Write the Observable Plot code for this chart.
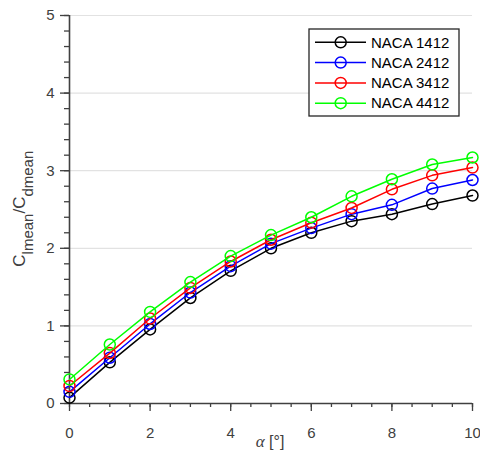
<!DOCTYPE html>
<html><head><meta charset="utf-8">
<script src="https://cdn.jsdelivr.net/npm/d3@7"></script>
<script src="https://cdn.jsdelivr.net/npm/@observablehq/plot@0.6"></script>
<style>body{margin:0;background:#fff}</style>
</head><body><div id="chart"></div>
<script>
const alpha = [0, 1, 2, 3, 4, 5, 6, 7, 8, 9, 10];
const seriesNames = ["NACA 1412", "NACA 2412", "NACA 3412", "NACA 4412"];
const seriesColors = ["#000000", "#0000ff", "#ff0000", "#00ff00"];
const naca1412 = [0.075, 0.53, 0.955, 1.36, 1.71, 2.00, 2.20, 2.35, 2.44, 2.57, 2.68];
const naca2412 = [0.15, 0.59, 1.025, 1.43, 1.77, 2.06, 2.26, 2.44, 2.56, 2.77, 2.88];
const naca3412 = [0.225, 0.65, 1.095, 1.49, 1.83, 2.11, 2.33, 2.52, 2.76, 2.94, 3.04];
const naca4412 = [0.31, 0.76, 1.18, 1.565, 1.90, 2.17, 2.40, 2.67, 2.89, 3.08, 3.17];
const seriesValues = [naca1412, naca2412, naca3412, naca4412];
const xMajorTicks = [0, 2, 4, 6, 8, 10];
const xMinorTicks = [0, 0.5, 1, 1.5, 2, 2.5, 3, 3.5, 4, 4.5, 5, 5.5, 6, 6.5, 7, 7.5, 8, 8.5, 9, 9.5, 10];
const yMajorTicks = [0, 1, 2, 3, 4, 5];
const yMinorTicks = [0, 0.2, 0.4, 0.6, 0.8, 1, 1.2, 1.4, 1.6, 1.8, 2, 2.2, 2.4, 2.6, 2.8, 3, 3.2, 3.4, 3.6, 3.8, 4, 4.2, 4.4, 4.6, 4.8, 5];

const axisColor = "#404040";
const seriesMarks = seriesValues.flatMap((vals, k) => {
  const data = alpha.map((a, i) => ({a, v: vals[i]}));
  return [
    Plot.line(data, {x: "a", y: "v", stroke: seriesColors[k], strokeWidth: 1.5}),
    Plot.dot(data, {x: "a", y: "v", r: 5.5, stroke: seriesColors[k], strokeWidth: 1.5, fill: "none"})
  ];
});

const svg = Plot.plot({
  width: 480, height: 468,
  marginLeft: 69, marginRight: 8, marginTop: 15, marginBottom: 65,
  style: {fontFamily: "'Liberation Sans', Arial, sans-serif", fontSize: "15px", color: axisColor, background: "#fff"},
  x: {domain: [0, 10]},
  y: {domain: [0, 5]},
  marks: [
    Plot.gridY(yMajorTicks.slice(1), {stroke: "#e2e2e2", strokeOpacity: 1, strokeWidth: 1.2}),
    Plot.axisX({ticks: xMinorTicks, tickSize: 4, tickFormat: () => "", label: null, strokeWidth: 1.3}),
    Plot.axisX({ticks: xMajorTicks, tickSize: 8, tickPadding: 16, tickFormat: d => String(d), label: null, strokeWidth: 1.3}),
    Plot.axisY({ticks: yMinorTicks, tickSize: 5, tickFormat: () => "", label: null, strokeWidth: 1.3}),
    Plot.axisY({ticks: yMajorTicks, tickSize: 9, tickPadding: 6, tickFormat: d => String(d), label: null, strokeWidth: 1.3}),
    Plot.ruleY([0], {stroke: axisColor, strokeWidth: 1.6}),
    Plot.ruleX([0], {stroke: axisColor, strokeWidth: 1.6}),
    ...seriesMarks
  ]
});

const root = d3.select(svg);
// x-axis label
const xl = root.append("text")
  .attr("x", 270).attr("y", 447)
  .attr("text-anchor", "middle")
  .attr("fill", axisColor)
  .style("font-size", "16px");
xl.append("tspan").attr("font-family", "'Liberation Serif', 'Times New Roman', serif").attr("font-style", "italic").style("font-size", "17px").text("α");
xl.append("tspan").attr("font-family", "'Liberation Sans', Arial, sans-serif").text(" [°]");

// y-axis label
const yl = root.append("text")
  .attr("transform", "translate(25,208.7) rotate(-90)")
  .attr("text-anchor", "middle")
  .attr("fill", axisColor)
  .attr("font-family", "'Liberation Sans', Arial, sans-serif");
yl.append("tspan").style("font-size", "17px").text("C");
yl.append("tspan").style("font-size", "15px").attr("dy", 8).text("lmean");
yl.append("tspan").style("font-size", "17px").attr("dy", -8).text("/C");
yl.append("tspan").style("font-size", "15px").attr("dy", 8).text("dmean");

// legend
const lg = root.append("g");
lg.append("rect").attr("x", 309).attr("y", 29).attr("width", 150).attr("height", 87)
  .attr("fill", "#fff").attr("stroke", "#262626").attr("stroke-width", 1.3);
seriesNames.forEach((name, k) => {
  const cy = 42.3 + k * 20.3;
  lg.append("line").attr("x1", 315).attr("x2", 366).attr("y1", cy).attr("y2", cy)
    .attr("stroke", seriesColors[k]).attr("stroke-width", 1.5);
  lg.append("circle").attr("cx", 340.7).attr("cy", cy).attr("r", 5.5)
    .attr("fill", "none").attr("stroke", seriesColors[k]).attr("stroke-width", 1.5);
  lg.append("text").attr("x", 371).attr("y", cy).attr("dy", "0.35em")
    .attr("text-anchor", "start")
    .attr("fill", "#000").style("font-size", "15px")
    .attr("font-family", "'Liberation Sans', Arial, sans-serif").text(name);
});

document.getElementById("chart").appendChild(svg);
</script>
</body></html>
